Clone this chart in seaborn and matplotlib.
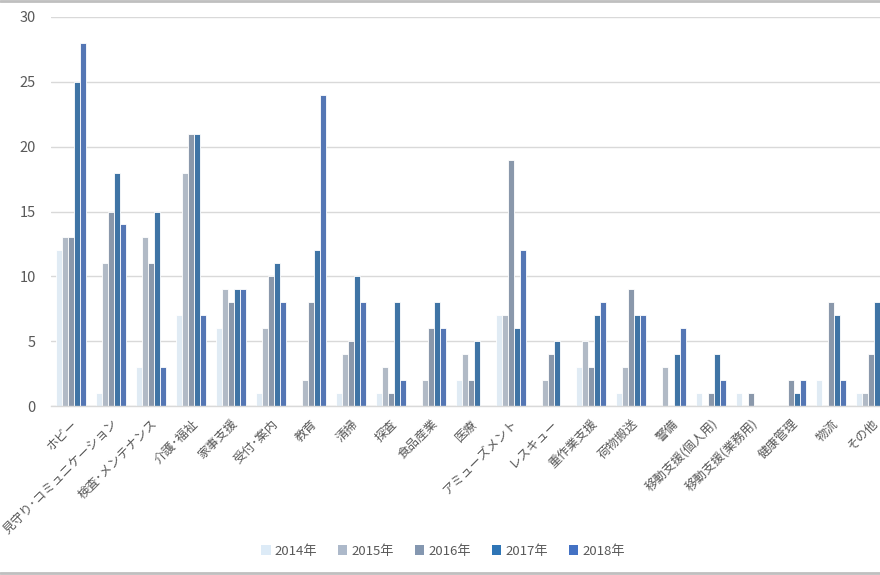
import numpy as np
import pandas as pd
import matplotlib
matplotlib.use("Agg")
import matplotlib.pyplot as plt
import seaborn as sns
from matplotlib.lines import Line2D
from matplotlib.patches import Patch

categories = ["ホビー", "見守り･コミュニケーション", "検査･メンテナンス", "介護･福祉", "家事支援",
              "受付･案内", "教育", "清掃", "探査", "食品産業", "医療", "アミューズメント",
              "レスキュー", "重作業支援", "荷物搬送", "警備", "移動支援(個人用)", "移動支援(業務用)",
              "健康管理", "物流", "その他"]
years = ["2014年", "2015年", "2016年", "2017年", "2018年"]
v2014 = [12, 1, 3, 7, 6, 1, 0, 1, 1, 0, 2, 7, 0, 3, 1, 0, 1, 1, 0, 2, 1]
v2015 = [13, 11, 13, 18, 9, 6, 2, 4, 3, 2, 4, 7, 2, 5, 3, 3, 0, 0, 0, 0, 1]
v2016 = [13, 15, 11, 21, 8, 10, 8, 5, 1, 6, 2, 19, 4, 3, 9, 0, 1, 1, 2, 8, 4]
v2017 = [25, 18, 15, 21, 9, 11, 12, 10, 8, 8, 5, 6, 5, 7, 7, 4, 4, 0, 1, 7, 8]
v2018 = [28, 14, 3, 7, 9, 8, 24, 8, 2, 6, 0, 12, 0, 8, 7, 6, 2, 0, 2, 2, 8]
colors = ["#DDEBF7", "#ADB9CA", "#8497B0", "#2E75B6", "#4472C4"]

rows = []
for y, vals in zip(years, [v2014, v2015, v2016, v2017, v2018]):
    for c, v in zip(categories, vals):
        rows.append({"category": c, "year": y, "value": v})
df = pd.DataFrame(rows)

sns.set_theme(style="white")
plt.rcParams['font.family'] = ['Noto Sans CJK JP', 'DejaVu Sans']

fig = plt.figure(figsize=(8.8, 5.75), dpi=100)
ax = fig.add_axes([51/880, 169/575, 840/880, 389/575])

sns.barplot(data=df, x="category", y="value", hue="year", order=categories,
            hue_order=years, palette=colors, width=0.75, ax=ax,
            edgecolor="white", linewidth=0.6, legend=False, errorbar=None)

ax.set_xlim(-0.5, len(categories) - 0.5)
ax.set_ylim(0, 30)
ax.set_yticks([0, 5, 10, 15, 20, 25, 30])
ax.yaxis.grid(True, color="#D9D9D9", linewidth=1)
ax.set_axisbelow(True)
for s in ["top", "right", "left"]:
    ax.spines[s].set_visible(False)
ax.spines["bottom"].set_color("#D9D9D9")
ax.spines["bottom"].set_linewidth(1)
ax.set_xlabel("")
ax.set_ylabel("")
ax.tick_params(axis="y", colors="#595959", labelsize=10.5, length=0, pad=11)
ax.tick_params(axis="x", colors="#595959", labelsize=9, length=0, pad=8)
for lab in ax.get_xticklabels():
    lab.set_rotation(45)
    lab.set_ha("right")
    lab.set_rotation_mode("anchor")

handles = [Patch(facecolor=c, edgecolor="none") for c in colors]
fig.legend(handles, years, loc="center", bbox_to_anchor=(443/880, 1 - 551/575),
           ncol=5, frameon=False, fontsize=9.5, handlelength=0.7, handleheight=0.7,
           handletextpad=0.3, columnspacing=1.6, labelcolor="#595959")

fig.add_artist(Line2D([0, 1], [1 - 1/575, 1 - 1/575], color="#BFBFBF", linewidth=2, transform=fig.transFigure))
fig.add_artist(Line2D([0, 1], [2/575, 2/575], color="#BFBFBF", linewidth=2, transform=fig.transFigure))

fig.savefig("out.png", dpi=100)
